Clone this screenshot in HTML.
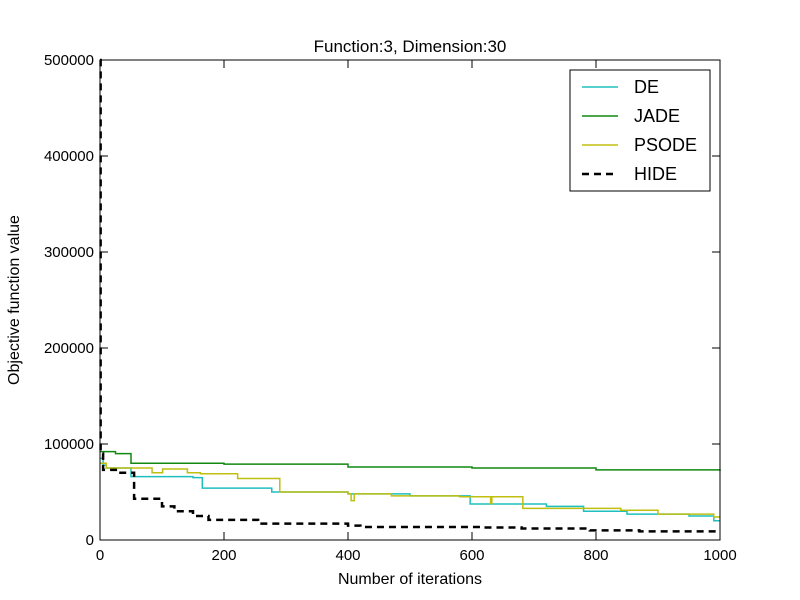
<!DOCTYPE html>
<html><head><meta charset="utf-8"><style>
body{margin:0;background:#fff;}
svg{display:block;font-family:"Liberation Sans","DejaVu Sans",sans-serif;}
</style></head><body>
<svg id="chart" width="800" height="600" viewBox="0 0 800 600">
<rect width="800" height="600" fill="#fff"/>
<text x="410" y="52" font-size="17" text-anchor="middle">Function:3, Dimension:30</text>
<g id="plot"></g>
<rect x="100" y="60" width="620" height="480" fill="none" stroke="#000" stroke-width="1"/>
<g id="ticks"></g>
<text x="410" y="584" font-size="16" text-anchor="middle">Number of iterations</text>
<text x="19" y="300" font-size="16" text-anchor="middle" transform="rotate(-90 19 300)">Objective function value</text>
<g>
<rect x="570" y="70" width="140" height="121" fill="#fff" stroke="#000"/>
<g><line x1="582" y1="87" x2="618" y2="87" stroke="#1fbfbf" stroke-width="1.5"/><text x="634" y="93" font-size="18">DE</text></g>
<g><line x1="582" y1="116" x2="618" y2="116" stroke="#118811" stroke-width="1.5"/><text x="634" y="122" font-size="18">JADE</text></g>
<g><line x1="582" y1="145" x2="618" y2="145" stroke="#bfbf11" stroke-width="1.5"/><text x="634" y="151" font-size="18">PSODE</text></g>
<g><line x1="582" y1="174" x2="618" y2="174" stroke="#000" stroke-width="2.5" stroke-dasharray="7,5"/><text x="634" y="180" font-size="18">HIDE</text></g>
</g>
</svg>
<script>
const xTicks=[0,200,400,600,800,1000];
const yTicks=[0,100000,200000,300000,400000,500000];
const deIter=[0,5,10,50,150,165,277,400,500,597,720,780,850,950,990,1000];
const deVals=[85000,78000,75000,66000,65000,54000,50000,48000,46000,37500,35000,30000,27000,25000,20000,20000];
const jadeIter=[0,25,50,200,400,600,800,1000];
const jadeVals=[92000,90000,80000,79000,76000,75000,73000,72000];
const psodeIter=[0,10,84,101,141,162,222,290,400,405,410,470,580,630,632,682,750,840,900,990,1000];
const psodeVals=[80000,75000,70000,74000,70000,69000,64000,50000,48000,41000,48000,46000,45000,38000,45000,33000,33000,31000,27000,24000,24000];
const hideIter=[0,1,5,30,55,100,120,150,175,255,400,420,620,680,790,870,1000];
const hideVals=[500000,90000,73000,70000,43000,35000,30000,25000,21000,17000,15000,13500,13000,12000,10000,9000,9000];
const X=v=>100+v*620/1000, Y=v=>540-v*480/500000;
const NS="http://www.w3.org/2000/svg";
const plot=document.getElementById('plot'), ticks=document.getElementById('ticks');
function step(it,vals,color,w,dash,name){
  let d="M"+X(it[0])+","+Y(vals[0]);
  for(let i=1;i<it.length;i++){d+=" H"+X(it[i])+" V"+Y(vals[i]);}
  const p=document.createElementNS(NS,'path');
  p.setAttribute('d',d);p.setAttribute('fill','none');p.setAttribute('stroke',color);
  p.setAttribute('stroke-width',w);if(dash)p.setAttribute('stroke-dasharray',dash);
  
  
  plot.appendChild(p);
}
step(jadeIter,jadeVals,'#118811',1.5,null,'jade-line');
step(deIter,deVals,'#1fbfbf',1.5,null,'de-line');
step(psodeIter,psodeVals,'#bfbf11',1.5,null,'psode-line');
step(hideIter,hideVals,'#000',2.5,'7,5','hide-line');
xTicks.forEach(v=>{
  const x=X(v);
  const l=document.createElementNS(NS,'path');
  l.setAttribute('d',`M${x},540 V532 M${x},60 V68`);l.setAttribute('stroke','#000');
  
  
  ticks.appendChild(l);
  const t=document.createElementNS(NS,'text');
  t.setAttribute('x',x);t.setAttribute('y',560);t.setAttribute('font-size','15');t.setAttribute('text-anchor','middle');
  t.textContent=v;
  
  
  ticks.appendChild(t);
});
yTicks.forEach(v=>{
  const y=Y(v);
  const l=document.createElementNS(NS,'path');
  l.setAttribute('d',`M100,${y} H108 M720,${y} H712`);l.setAttribute('stroke','#000');
  
  
  ticks.appendChild(l);
  const t=document.createElementNS(NS,'text');
  t.setAttribute('x',94);t.setAttribute('y',y+5);t.setAttribute('font-size','15');t.setAttribute('text-anchor','end');
  t.textContent=v;
  
  
  ticks.appendChild(t);
});
</script>
</body></html>
